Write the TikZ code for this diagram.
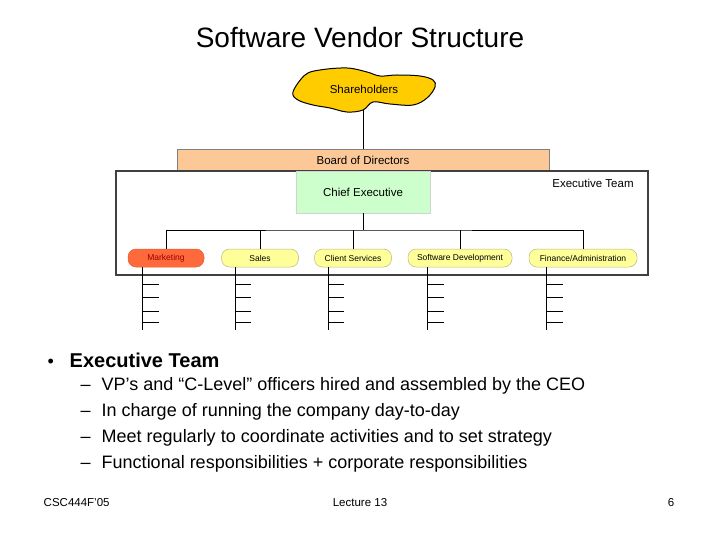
\documentclass[tikz,border=0pt]{standalone}
\usepackage{fontspec}
\setmainfont{Liberation Sans}
\usetikzlibrary{positioning}
\definecolor{sharegold}{HTML}{FFCC00}
\definecolor{boardorange}{HTML}{FCC898}
\definecolor{cegreen}{HTML}{CCFFCC}
\definecolor{deptfill}{HTML}{FFFF99}
\definecolor{deptline}{HTML}{B8B880}
\definecolor{mktfill}{HTML}{FF6A3D}
\definecolor{mktline}{HTML}{E85A30}
\definecolor{mkttext}{HTML}{990000}

\begin{document}
\begin{tikzpicture}[x=1pt,y=-1pt,line width=0.8pt,
  dept/.style={draw=deptline,line width=0.5pt,fill=deptfill,rounded corners=8pt,
    minimum height=18pt,inner sep=0pt,font=\fontsize{8.5}{9}\selectfont},
  orgbox/.style={inner sep=0pt,font=\fontsize{11.5}{13}\selectfont},
  subitem/.style={anchor=west,font=\fontsize{18}{21}\selectfont},
  foot/.style={font=\fontsize{11.5}{13}\selectfont}]
  \useasboundingbox (0,0) rectangle (720,540);
  \node[font=\fontsize{28}{32}\selectfont] (title) at (360,37) {Software Vendor Structure};
  % shareholders blob
  \draw[fill=sharegold,line width=1pt] plot[smooth cycle,tension=0.6] coordinates {
    (293,92) (305,75) (320,70) (347,68) (367,72) (380,76) (397,75) (420,76) (433,80)
    (435,87) (427,98) (413,105) (390,104) (373,102) (363,110) (347,112) (330,108)
    (313,105) (298,100)};
  \node[orgbox] (share) at (364,89) {Shareholders};
  \coordinate (sharefoot) at (363,110);
  % board and executive team
  \node[orgbox,draw=gray,line width=0.5pt,fill=boardorange,minimum width=372pt,minimum height=21pt]
    (board) at (363,160) {Board of Directors};
  \draw[darkgray,line width=1.2pt] (116,171) rectangle (648,275);
  \node[orgbox] (teamlabel) at (593,183) {Executive Team};
  \node[orgbox,draw=gray!35,line width=0.5pt,fill=cegreen,minimum width=134pt,minimum height=42pt]
    (ceo) at (363,192) {Chief Executive};
  \draw (sharefoot) -- (board);
  % departments
  \node[dept,draw=mktline,fill=mktfill,text=mkttext,minimum width=76pt] (mkt) at (166,258) {Marketing};
  \node[dept,minimum width=77pt] (sales) at (260,258) {Sales};
  \node[dept,minimum width=77pt] (client) at (353,258) {Client Services};
  \node[dept,minimum width=104pt] (swdev) at (460,258) {Software Development};
  \node[dept,minimum width=108pt] (fin) at (583,258) {Finance/Administration};
  \coordinate (bus) at (363,230);
  \draw (ceo) -- (bus);
  \draw (mkt) |- (bus) -| (fin);
  \draw (sales) -- (sales |- bus);
  \draw (client) -- (client |- bus);
  \draw (swdev) -- (swdev |- bus);
  % staff lists under each department
  \foreach \d/\o in {mkt/15,sales/14,client/14,swdev/20,fin/18} {
    \draw ([xshift=\o pt]\d.south west) -- ++(0,63);
    \foreach \t in {17,30,44,55}
      \draw ([xshift=\o pt,yshift=-\t pt]\d.south west) -- ++(16,0);
  }
  % bullet text
  \node[anchor=west,font=\fontsize{18}{21}\selectfont] (dot) at (44,363) {•};
  \node[anchor=west,font=\fontsize{20}{24}\selectfont\bfseries] (head) at (66,360) {Executive Team};
  \node[subitem] (d1) at (77,388) {–};
  \node[subitem] (s1) at (98,386) {VP’s and “C-Level” officers hired and assembled by the CEO};
  \node[subitem] (d2) at (77,414) {–};
  \node[subitem] (s2) at (98,412) {In charge of running the company day-to-day};
  \node[subitem] (d3) at (77,440) {–};
  \node[subitem] (s3) at (98,438) {Meet regularly to coordinate activities and to set strategy};
  \node[subitem] (d4) at (77,466) {–};
  \node[subitem] (s4) at (98,464) {Functional responsibilities + corporate responsibilities};
  % footer
  \node[foot,anchor=west] (course) at (40,503) {CSC444F'05};
  \node[foot] (lecture) at (360,503) {Lecture 13};
  \node[foot,anchor=east] (page) at (678,503) {6};
\end{tikzpicture}
\end{document}
